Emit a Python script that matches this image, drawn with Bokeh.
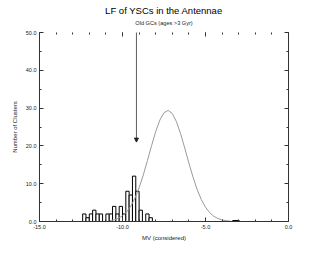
from bokeh.plotting import figure
from bokeh.models import (Range1d, LinearAxis, SingleIntervalTicker, PrintfTickFormatter,
                          Title, Arrow, NormalHead, CustomLabelingPolicy)
from bokeh.embed import file_html
from bokeh.resources import INLINE

# Histogram (bin width 0.2 mag)
bin_left = [-12.4, -12.2, -12.0, -11.8, -11.6, -11.4, -11.2, -11.0, -10.8, -10.6, -10.4,
            -10.2, -10.0, -9.8, -9.6, -9.4, -9.2, -9.0, -8.8, -8.6, -8.4]
bin_right = [-12.2, -12.0, -11.8, -11.6, -11.4, -11.2, -11.0, -10.8, -10.6, -10.4, -10.2,
             -10.0, -9.8, -9.6, -9.4, -9.2, -9.0, -8.8, -8.6, -8.4, -8.2]
counts = [2, 1, 2, 3, 2, 2, 0, 2, 2, 4, 2, 4, 2, 8, 7, 12, 8, 3, 0, 2, 1]

# Fitted luminosity function curve
curve_x = [-10.75, -10.5, -10.25, -10.0, -9.75, -9.5, -9.25, -9.0, -8.75, -8.5, -8.25, -8.0,
           -7.75, -7.5, -7.25, -7.0, -6.75, -6.5, -6.25, -6.0, -5.75, -5.5, -5.25, -5.0,
           -4.75, -4.5, -4.25, -4.0, -3.75, -3.5]
curve_y = [0.24, 0.46, 0.85, 1.51, 2.53, 4.05, 6.16, 8.92, 12.28, 16.09, 20.05, 23.77,
           26.82, 28.79, 29.40, 28.56, 26.40, 23.21, 19.42, 15.46, 11.71, 8.43, 5.78, 3.77,
           2.34, 1.38, 0.78, 0.41, 0.21, 0.10]

# small dark segment at the baseline
seg_x = [-3.38, -2.95]
seg_y = [0.15, 0.15]

# Arrow marking old GCs
arrow_x = -9.16
arrow_top = 50.5
arrow_tip = 21.0

title_text = "LF of YSCs in the Antennae"
arrow_text = "Old GCs (ages >3 Gyr)"
x_label = "MV (considered)"
y_label = "Number of Clusters"

FONT = "Liberation Sans"

p = figure(frame_width=249, frame_height=189, min_border_left=39, min_border_right=31,
           min_border_top=32, min_border_bottom=24,
           x_range=Range1d(-15, 0), y_range=Range1d(0, 50),
           output_backend="svg", toolbar_location=None,
           x_axis_label=x_label, y_axis_label=y_label)
p.outline_line_color = None
p.grid.visible = False
p.background_fill_color = "white"
p.border_fill_color = "white"

no_labels = CustomLabelingPolicy(code="return new Set()")

def style(ax, labels=True):
    ax.major_tick_in = 4
    ax.major_tick_out = 0
    ax.minor_tick_in = 2
    ax.minor_tick_out = 0
    ax.axis_line_color = "#333333"
    ax.major_tick_line_color = "#333333"
    ax.minor_tick_line_color = "#333333"
    ax.major_label_text_font = FONT
    ax.major_label_text_font_size = "5.5px"
    ax.major_label_text_color = "#222222"
    ax.major_label_standoff = 3 if labels else 0
    ax.axis_label_text_font = FONT
    ax.axis_label_text_font_size = "6px"
    ax.axis_label_text_font_style = "normal"
    ax.axis_label_text_color = "#222222"
    if not labels:
        ax.major_label_policy = no_labels

xa = p.xaxis[0]
xa.ticker = SingleIntervalTicker(interval=5, num_minor_ticks=5)
xa.formatter = PrintfTickFormatter(format="%.1f")
style(xa)
xa.axis_label_standoff = 3

ya = p.yaxis[0]
ya.ticker = SingleIntervalTicker(interval=10, num_minor_ticks=2)
ya.formatter = PrintfTickFormatter(format="%.1f")
style(ya)
ya.axis_label_standoff = 5

top = LinearAxis(ticker=SingleIntervalTicker(interval=5, num_minor_ticks=5))
style(top, labels=False)
top.axis_line_color = None
p.add_layout(top, "above")

right = LinearAxis(ticker=SingleIntervalTicker(interval=10, num_minor_ticks=2))
style(right, labels=False)
p.add_layout(right, "right")

p.quad(left=bin_left, right=bin_right, top=counts, bottom=0,
       fill_color="white", line_color="black", line_width=1)

p.line(curve_x, curve_y, line_color="#9a9a9a", line_width=1)
p.line(seg_x, seg_y, line_color="black", line_width=2)

p.add_layout(Arrow(end=NormalHead(size=4, fill_color="#222222", line_color="#222222", line_width=1),
                   x_start=arrow_x, y_start=arrow_top, x_end=arrow_x, y_end=arrow_tip,
                   line_color="#333333", line_width=0.8))

p.add_layout(Title(text=arrow_text, align="center", offset=-14, standoff=0,
                   text_font=FONT, text_font_size="5.6px", text_font_style="normal",
                   text_color="#222222"), "above")
p.add_layout(Title(text=title_text, align="center", offset=-1, standoff=4,
                   text_font=FONT, text_font_size="9.5px", text_font_style="normal",
                   text_color="black"), "above")

open("out.html", "w").write(file_html(p, INLINE))
